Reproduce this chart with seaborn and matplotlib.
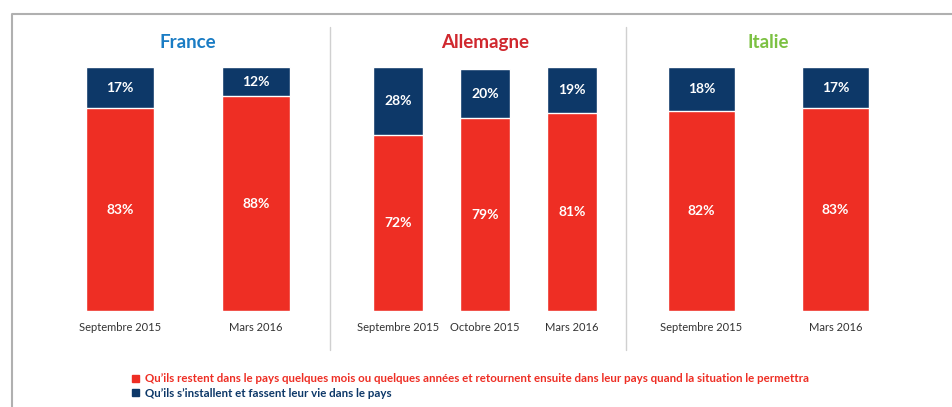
import numpy as np
import pandas as pd
import seaborn as sns
import matplotlib.pyplot as plt
from matplotlib.patches import Patch
from matplotlib.lines import Line2D

# values (percent)
countries = ['France', 'Allemagne', 'Italie']
title_colors = ['#1a7cc4', '#d0282e', '#7cc142']
france_periods = ['Septembre 2015', 'Mars 2016']
france_retour = [83, 88]
france_installe = [17, 12]
allemagne_periods = ['Septembre 2015', 'Octobre 2015', 'Mars 2016']
allemagne_retour = [72, 79, 81]
allemagne_installe = [28, 20, 19]
italie_periods = ['Septembre 2015', 'Mars 2016']
italie_retour = [82, 83]
italie_installe = [18, 17]
legend_labels = ["Qu\u2019ils restent dans le pays quelques mois ou quelques ann\u00e9es et retournent ensuite dans leur pays quand la situation le permettra",
                 "Qu\u2019ils s\u2019installent et fassent leur vie dans le pays"]

RED = '#ee2e24'
BLUE = '#0d3868'

sns.set_style('white')
plt.rcParams['font.family'] = ['Lato', 'DejaVu Sans']

fig = plt.figure(figsize=(9.53, 4.07), dpi=100)
W, H = 953, 407

# axes boxes in pixels: left, width
boxes = [(52, 272), (354.5, 261), (634.5, 268)]
widths = [0.5, 0.57, 0.5]
panels = [(france_periods, france_retour, france_installe),
          (allemagne_periods, allemagne_retour, allemagne_installe),
          (italie_periods, italie_retour, italie_installe)]

for i, (periods, retour, installe) in enumerate(panels):
    left, wpx = boxes[i]
    ax = fig.add_axes([left / W, 96 / H, wpx / W, 244 / H])
    df = pd.DataFrame({'periode': periods, 'retour': retour, 'installe': installe})
    df['total'] = df['retour'] + df['installe']
    sns.barplot(data=df, x='periode', y='total', color=BLUE, saturation=1,
                width=widths[i], ax=ax)
    sns.barplot(data=df, x='periode', y='retour', color=RED, saturation=1,
                width=widths[i], ax=ax)
    for j, row in df.iterrows():
        ax.text(j, row['retour'] / 2, f"{row['retour']}%", ha='center', va='center',
                color='white', fontsize=10, fontweight='bold')
        ax.text(j, row['retour'] + row['installe'] / 2, f"{row['installe']}%",
                ha='center', va='center', color='white', fontsize=10, fontweight='bold')
    ax.set_xlim(-0.5, len(periods) - 0.5)
    ax.set_ylim(0, 100)
    ax.set_xlabel('')
    ax.set_ylabel('')
    ax.set_yticks([])
    ax.tick_params(axis='x', length=0, pad=8, labelsize=8, labelcolor='#333333')
    sns.despine(ax=ax, left=True, bottom=True)
    ax.set_title(countries[i], color=title_colors[i], fontsize=13.5, fontweight='bold', pad=14)

# separators between panels
for x in [330, 626]:
    fig.add_artist(Line2D([x / W, x / W], [1 - 27 / H, 1 - 350 / H],
                          color='#d0d0d0', lw=1))

# outer frame (left and top edges)
fig.add_artist(Line2D([12 / W, 12 / W, 1], [0, 1 - 14 / H, 1 - 14 / H],
                      color='#b0b0b0', lw=1.5))

handles = [Patch(color=RED), Patch(color=BLUE)]
fig.legend(handles, legend_labels, loc='upper left',
           bbox_to_anchor=(122 / W, 1 - 363 / H), frameon=False,
           handlelength=0.6, handleheight=0.6, handletextpad=0.5,
           labelspacing=0.3, labelcolor=[RED, BLUE],
           prop={'size': 8.25, 'weight': 'bold'})

fig.savefig('out.png', dpi=100)
